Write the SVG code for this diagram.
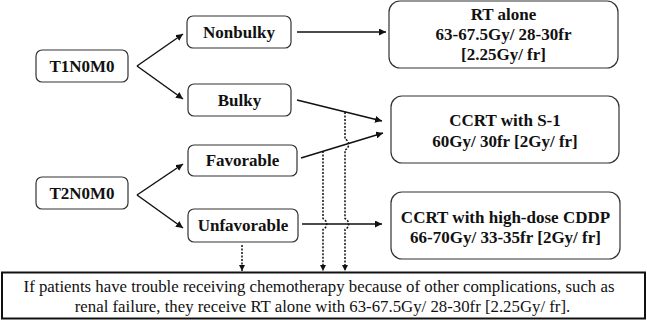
<svg xmlns="http://www.w3.org/2000/svg" width="647" height="320" viewBox="0 0 647 320">
<defs>
<marker id="ah" viewBox="0 0 10 10" refX="10" refY="5" markerWidth="7" markerHeight="7" markerUnits="userSpaceOnUse" orient="auto">
<path d="M0,0 L10,5 L0,10 Z" fill="#111"/>
</marker>
<marker id="ahd" viewBox="0 0 10 10" refX="10" refY="5" markerWidth="6" markerHeight="6" markerUnits="userSpaceOnUse" orient="auto">
<path d="M0,0 L10,5 L0,10 Z" fill="#111"/>
</marker>
</defs>
<style>
.box{fill:#fff;stroke:#333;stroke-width:1.2}
.lbl{font-family:'Liberation Serif','Times New Roman',serif;font-weight:700;font-size:17px;fill:#111;text-anchor:middle}
.note{font-family:'Liberation Serif','Times New Roman',serif;font-size:16.8px;fill:#111;text-anchor:middle}
.ln{fill:none;stroke:#111;stroke-width:1.5}
.dot{fill:none;stroke:#111;stroke-width:1.5;stroke-dasharray:2 1.5}
</style>
<rect width="647" height="320" fill="#fff"/>
<g id="connectors">
<path class="ln" d="M137,66 L183,34" marker-end="url(#ah)"/>
<path class="ln" d="M137,66 L183,99" marker-end="url(#ah)"/>
<path class="ln" d="M137,195 L183,164" marker-end="url(#ah)"/>
<path class="ln" d="M137,195 L183,228" marker-end="url(#ah)"/>
<path class="ln" d="M297,32 L386,32" marker-end="url(#ah)"/>
<path class="ln" d="M297,100 L382,121" marker-end="url(#ah)"/>
<path class="ln" d="M301,158 L383,133" marker-end="url(#ah)"/>
<path class="ln" d="M302,224 L382,224" marker-end="url(#ah)"/>
<path class="dot" d="M242,245 L242,271" marker-end="url(#ahd)"/>
<path class="dot" d="M323,151 L323,218.5 A6,6 0 0 1 323,229.5 L323,271" marker-end="url(#ahd)"/>
<path class="dot" d="M345,112 L345,139 A6,6 0 0 1 345,150 L345,218.5 A6,6 0 0 1 345,229.5 L345,271" marker-end="url(#ahd)"/>
</g>
<g id="t1n0m0"><rect class="box" x="36" y="50" width="92" height="32" rx="6"/><text class="lbl" x="82" y="72">T1N0M0</text></g>
<g id="nonbulky"><rect class="box" x="187" y="16" width="104" height="32" rx="6"/><text class="lbl" x="239" y="38">Nonbulky</text></g>
<g id="bulky"><rect class="box" x="188" y="84" width="103" height="32" rx="6"/><text class="lbl" x="239.5" y="106">Bulky</text></g>
<g id="t2n0m0"><rect class="box" x="36" y="177" width="92" height="32" rx="6"/><text class="lbl" x="82" y="199">T2N0M0</text></g>
<g id="favorable"><rect class="box" x="188" y="145" width="109" height="31" rx="6"/><text class="lbl" x="242.5" y="166">Favorable</text></g>
<g id="unfavorable"><rect class="box" x="188" y="209" width="110" height="33" rx="6"/><text class="lbl" x="243" y="231">Unfavorable</text></g>
<g id="rt-alone"><rect class="box" x="389" y="1" width="229" height="67" rx="11"/>
<text class="lbl" x="503.5" y="20">RT alone</text>
<text class="lbl" x="503.5" y="40">63-67.5Gy/ 28-30fr</text>
<text class="lbl" x="503.5" y="60">[2.25Gy/ fr]</text></g>
<g id="ccrt-s1"><rect class="box" x="391" y="96" width="228" height="67" rx="11"/>
<text class="lbl" x="505" y="125.5">CCRT with S-1</text>
<text class="lbl" x="505" y="146.5">60Gy/ 30fr [2Gy/ fr]</text></g>
<g id="ccrt-cddp"><rect class="box" x="391" y="192" width="229" height="67" rx="11"/>
<text class="lbl" x="505.5" y="222.5">CCRT with high-dose CDDP</text>
<text class="lbl" x="505.5" y="243">66-70Gy/ 33-35fr [2Gy/ fr]</text></g>
<g id="note"><rect x="2" y="272.5" width="643" height="46" fill="#fff" stroke="#111" stroke-width="2"/>
<text class="note" x="319" y="292">If patients have trouble receiving chemotherapy because of other complications, such as</text>
<text class="note" x="322.5" y="312">renal failure, they receive RT alone with 63-67.5Gy/ 28-30fr [2.25Gy/ fr].</text></g>
</svg>
